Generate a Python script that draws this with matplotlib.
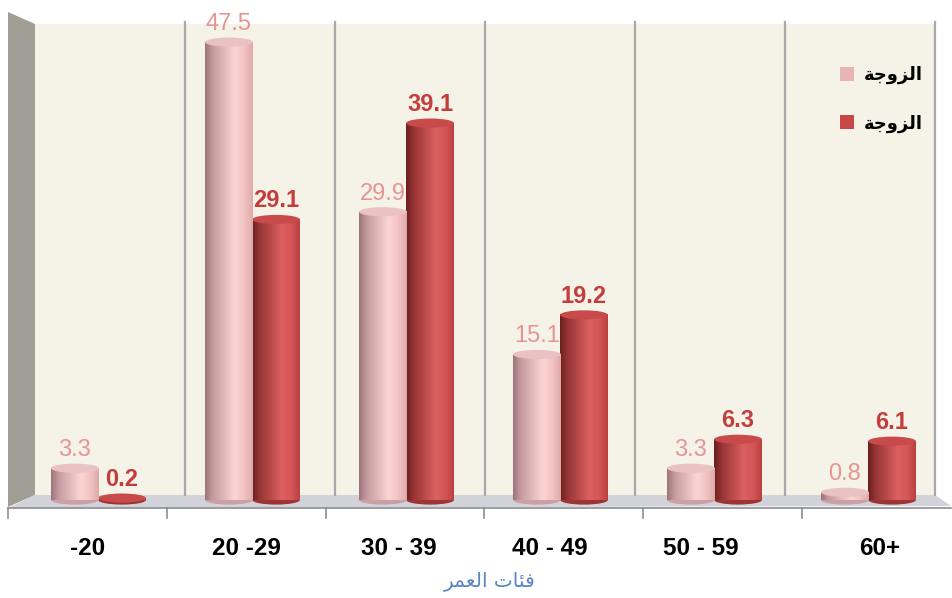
import numpy as np
import matplotlib
matplotlib.use('Agg')
import matplotlib.pyplot as plt
from matplotlib.patches import Polygon, Ellipse, Patch
from matplotlib.transforms import Affine2D
from matplotlib.colors import to_rgb

# === Data ===
categories = ['-20', '20 -29', '30 - 39', '40 - 49', '50 - 59', '60+']
wife = [3.3, 47.5, 29.9, 15.1, 3.3, 0.8]
husband = [0.2, 29.1, 39.1, 19.2, 6.3, 6.1]
series_names = ['الزوجة', 'الزوجة']
axis_title = 'فئات العمر'

# === Minimal Arabic shaping (matplotlib has no bidi/shaping) ===
FORMS = {  # isolated, final, initial, medial
    'ا': (0xFE8D, 0xFE8E), 'ز': (0xFEAF, 0xFEB0), 'و': (0xFEED, 0xFEEE),
    'ة': (0xFE93, 0xFE94), 'ر': (0xFEAD, 0xFEAE),
    'ل': (0xFEDD, 0xFEDE, 0xFEDF, 0xFEE0), 'ج': (0xFE9D, 0xFE9E, 0xFE9F, 0xFEA0),
    'ف': (0xFED1, 0xFED2, 0xFED3, 0xFED4), 'ئ': (0xFE89, 0xFE8A, 0xFE8B, 0xFE8C),
    'ت': (0xFE95, 0xFE96, 0xFE97, 0xFE98), 'ع': (0xFEC9, 0xFECA, 0xFECB, 0xFECC),
    'م': (0xFEE1, 0xFEE2, 0xFEE3, 0xFEE4),
}


def shape(s):
    out = []
    for i, ch in enumerate(s):
        if ch not in FORMS:
            out.append(ch)
            continue
        prev = s[i - 1] if i > 0 else ''
        nxt = s[i + 1] if i + 1 < len(s) else ''
        jp = prev in FORMS and len(FORMS[prev]) == 4
        jn = len(FORMS[ch]) == 4 and nxt in FORMS
        idx = 3 if (jp and jn) else 1 if jp else 2 if jn else 0
        out.append(chr(FORMS[ch][idx]))
    return ''.join(reversed(out))


FONT = ['Liberation Sans', 'DejaVu Sans']
PINK_TXT = '#e69494'
RED_TXT = '#c43c3c'

fig = plt.figure(figsize=(9.53, 5.98), dpi=100)
ax = fig.add_axes([0, 0, 1, 1])
ax.axis('off')

# pixel coordinates (y from top) for the 3D box decoration
pix = Affine2D().scale(1 / 953, -1 / 598).translate(0, 1) + fig.transFigure

# === 3D box: side wall, back wall, floor ===
ax.add_patch(Polygon([(8, 12), (35, 24), (35, 495), (8, 507)], closed=True,
                     fc='#a19e96', ec='none', transform=pix, zorder=0))
ax.add_patch(Polygon([(35, 24), (935, 24), (935, 495), (35, 495)], closed=True,
                     fc='#f5f3e8', ec='none', transform=pix, zorder=0))
ax.add_patch(Polygon([(35, 495), (935, 495), (951, 506), (8, 508)], closed=True,
                     fc='#d2d2da', ec='none', transform=pix, zorder=0))
for k in range(1, 7):
    gx = 35 + k * 150
    ax.plot([gx, gx], [22, 495], color='#a8a8a8', lw=1.6, transform=pix, zorder=1)
ax.plot([8, 951], [508, 508], color='#8c8c8c', lw=1.2, transform=pix, zorder=1)
for k in range(6):
    tx = 8 + k * 158.8
    ax.plot([tx, tx], [508, 518], color='#8c8c8c', lw=1.2, transform=pix, zorder=1)


def gradient(stops, n=96):
    pos = np.linspace(0, 1, n)
    xs = [p for p, _ in stops]
    cols = np.array([to_rgb(c) for _, c in stops])
    rgb = np.stack([np.interp(pos, xs, cols[:, j]) for j in range(3)], axis=-1)
    return rgb[np.newaxis, :, :]


PINK = dict(grad=gradient([(0, '#9c7479'), (0.15, '#c49a9e'), (0.62, '#fcd4d4'),
                           (0.82, '#f3c4c4'), (1, '#dfa9aa')]),
            top='#ebc2c3', bottom='#caa0a3')
RED = dict(grad=gradient([(0, '#6c1f1f'), (0.15, '#953333'), (0.62, '#dc6060'),
                          (0.82, '#d45656'), (1, '#bb4141')]),
           top='#c94a4a', bottom='#9c3434')

bw = 0.31
eh = 0.95
x = np.arange(len(categories))
label_shift = [-0.07, -0.04, -0.05, -0.07, -0.09, 0.07]


def cylinder(xc, v, style, z):
    ax.add_patch(Ellipse((xc, 0), bw, eh, fc=style['bottom'], ec='none', zorder=z))
    ax.imshow(style['grad'], extent=(xc - bw / 2, xc + bw / 2, 0, v),
              aspect='auto', interpolation='bilinear', zorder=z + 0.1)
    ax.add_patch(Ellipse((xc, v), bw, eh, fc=style['top'], ec='none', zorder=z + 0.2))


for i in range(len(categories)):
    xp, xr = x[i] - 0.153, x[i] + 0.153
    cylinder(xr, husband[i], RED, 3)
    cylinder(xp, wife[i], PINK, 4)
    ax.text(xp, wife[i] + 1.25, f'{wife[i]:.1f}', ha='center', va='baseline',
            fontsize=17, color=PINK_TXT, family=FONT, zorder=6)
    ax.text(xr, husband[i] + 1.25, f'{husband[i]:.1f}', ha='center', va='baseline',
            fontsize=17, fontweight='bold', color=RED_TXT, family=FONT, zorder=6)
    ax.text(x[i] + label_shift[i], -4.98, categories[i], ha='center', va='center',
            fontsize=17.5, fontweight='bold', color='black', family=FONT)

ax.text(2.54, -8.45, shape(axis_title), ha='center', va='center',
        fontsize=14.5, color='#5b86c5', family=['DejaVu Sans'])

handles = [Patch(fc='#e8b4b4', ec='none'), Patch(fc='#c84848', ec='none')]
ax.legend(handles, [shape(s) for s in series_names], loc='upper left',
          bbox_to_anchor=(824 / 953, 1 - 50 / 598), frameon=False,
          handlelength=0.75, handleheight=0.75, handletextpad=0.55,
          labelspacing=1.65, prop=dict(family='DejaVu Sans', weight='bold', size=13))

ax.set_xlim((0 - 98.5) / 154, (953 - 98.5) / 154)
ax.set_ylim((500 - 598) / 9.64, 500 / 9.64)

fig.savefig('out.png', dpi=100, facecolor='white')
